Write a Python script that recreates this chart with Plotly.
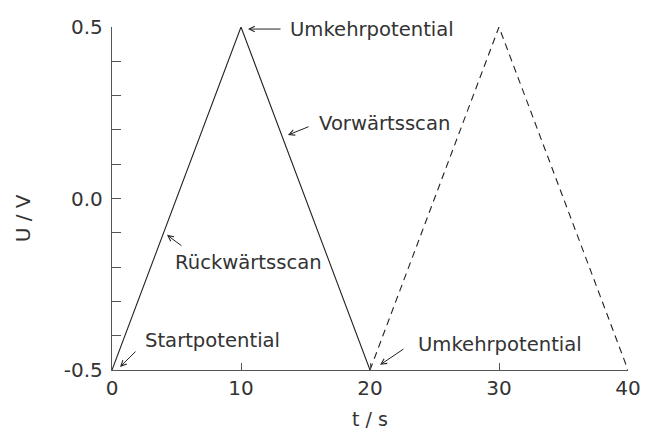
import plotly.graph_objects as go

# Data
t_solid = [0, 10, 20]
u_solid = [-0.5, 0.5, -0.5]
t_dashed = [20, 30, 40]
u_dashed = [-0.5, 0.5, -0.5]

x_ticks = [0, 10, 20, 30, 40]
y_ticks = [-0.5, 0.0, 0.5]
y_ticklabels = ["-0.5", "0.0", "0.5"]

labels = ["Umkehrpotential", "Vorwärtsscan", "Rückwärtsscan", "Startpotential", "Umkehrpotential"]
x_title = "t / s"
y_title = "U / V"

FONT = "DejaVu Sans"
TXT = "#333333"
LINE = "#222222"

fig = go.Figure()
fig.add_trace(go.Scatter(x=t_solid, y=u_solid, mode="lines",
                         line=dict(color=LINE, width=1.1), showlegend=False))
fig.add_trace(go.Scatter(x=t_dashed, y=u_dashed, mode="lines",
                         line=dict(color=LINE, width=1.1, dash="7px,5px"), showlegend=False))

# text positions (left anchored) and arrows (head, tail) in data coords
text_pos = [(13.64, 0.494), (15.89, 0.220), (4.73, -0.188), (2.40, -0.415), (23.57, -0.427)]
arrows = [((10.54, 0.494), (13.18, 0.494)),
          ((13.64, 0.185), (15.35, 0.211)),
          ((4.26, -0.106), (5.50, -0.141)),
          ((0.62, -0.491), (1.94, -0.442)),
          ((20.78, -0.485), (22.71, -0.436))]

for lab, (tx, ty) in zip(labels, text_pos):
    fig.add_annotation(x=tx, y=ty, text=lab, showarrow=False, xanchor="left", yanchor="middle",
                       font=dict(family=FONT, size=19.6, color=TXT))
for (hx, hy), (tx, ty) in arrows:
    fig.add_annotation(x=hx, y=hy, ax=tx, ay=ty, axref="x", ayref="y", text="",
                       showarrow=True, arrowhead=5, arrowsize=1.1, arrowwidth=1, arrowcolor=LINE)

# axis titles
fig.add_annotation(xref="paper", yref="paper", x=0.5, y=-0.143, text=x_title, showarrow=False,
                   xanchor="center", yanchor="middle", font=dict(family=FONT, size=19, color=TXT))
fig.add_annotation(xref="paper", yref="paper", x=-0.172, y=0.443, text=y_title, showarrow=False,
                   textangle=-90, xanchor="center", yanchor="middle",
                   font=dict(family=FONT, size=20, color=TXT))

fig.update_layout(
    width=645, height=432,
    margin=dict(l=112, r=17, t=27, b=62),
    plot_bgcolor="white", paper_bgcolor="white",
    font=dict(family=FONT, size=18, color=TXT),
    xaxis=dict(range=[0, 40], tickvals=x_ticks, ticks="inside", ticklen=7, tickcolor="#555",
               showline=True, linecolor="#555", linewidth=1.3, showgrid=False, zeroline=False,
               automargin=False, tickfont=dict(size=20)),
    yaxis=dict(range=[-0.5, 0.5], tickvals=y_ticks, ticktext=y_ticklabels, ticks="inside", ticklen=9,
               tickcolor="#555", showline=True, linecolor="#555", linewidth=1.3,
               minor=dict(dtick=0.1, tick0=0, ticks="inside", ticklen=9, tickcolor="#555"),
               showgrid=False, zeroline=False, automargin=False, ticklabelstandoff=4,
               tickfont=dict(size=20)),
)

fig.write_html("out.html")
